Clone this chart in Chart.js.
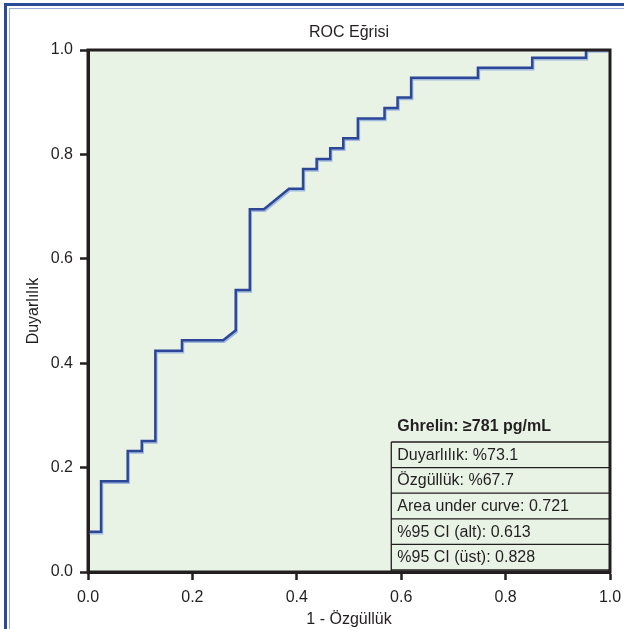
<!DOCTYPE html>
<html>
<head>
<meta charset="utf-8">
<script src="https://cdn.jsdelivr.net/npm/chart.js@4.4.1/dist/chart.umd.min.js"></script>
<style>
  html, body { margin: 0; padding: 0; background: #ffffff; overflow: hidden; }
  #wrap { position: relative; width: 624px; height: 629px; }
  canvas { position: absolute; left: 0; top: 0; }
  .frameOuter { position: absolute; left: 4px; top: 3px; width: 640px; height: 700px; border: 3px solid #2b4a98; box-sizing: border-box; pointer-events: none; }
  .frameInner { position: absolute; left: 9px; top: 8px; width: 640px; height: 700px; border: 1px solid #9aaedb; box-sizing: border-box; pointer-events: none; }
</style>
</head>
<body>
<div id="wrap">
  <canvas id="c" width="624" height="629"></canvas>
  <div class="frameOuter"></div>
  <div class="frameInner"></div>
</div>
<script>
// ROC curve vertices (1 - specificity, sensitivity)
const fpr = [0, 0.025, 0.025, 0.076, 0.076, 0.103, 0.103, 0.129, 0.129, 0.180, 0.180, 0.259, 0.283, 0.283, 0.310, 0.310, 0.337, 0.385, 0.412, 0.412, 0.438, 0.438, 0.464, 0.464, 0.489, 0.489, 0.517, 0.517, 0.568, 0.568, 0.593, 0.593, 0.619, 0.619, 0.747, 0.747, 0.851, 0.851, 0.954, 0.954, 1.0];
const tpr = [0.077, 0.077, 0.174, 0.174, 0.232, 0.232, 0.251, 0.251, 0.424, 0.424, 0.444, 0.444, 0.463, 0.540, 0.540, 0.695, 0.695, 0.734, 0.734, 0.772, 0.772, 0.791, 0.791, 0.812, 0.812, 0.831, 0.831, 0.869, 0.869, 0.889, 0.889, 0.909, 0.909, 0.947, 0.947, 0.966, 0.966, 0.985, 0.985, 1.0, 1.0];
const tickValues = [0, 0.2, 0.4, 0.6, 0.8, 1.0];
const chartTitle = 'ROC Eğrisi';
const xTitle = '1 - Özgüllük';
const yTitle = 'Duyarlılık';
const statsTitle = 'Ghrelin: ≥781 pg/mL';
const statsRows = ['Duyarlılık: %73.1', 'Özgüllük: %67.7', 'Area under curve: 0.721', '%95 CI (alt): 0.613', '%95 CI (üst): 0.828'];

const FONT = "'Liberation Sans', Arial, Helvetica, sans-serif";
const INK = '#231f20';

const points = fpr.map((x, i) => ({ x: x, y: tpr[i] }));

const bgPlugin = {
  id: 'bg',
  beforeDraw(chart) {
    const ctx = chart.ctx, ca = chart.chartArea;
    ctx.save();
    ctx.fillStyle = '#ffffff';
    ctx.fillRect(0, 0, chart.width, chart.height);
    ctx.fillStyle = '#e8f3e6';
    ctx.fillRect(ca.left, ca.top, ca.right - ca.left, ca.bottom - ca.top);
    ctx.restore();
  }
};

const shadowPlugin = {
  id: 'lineShadow',
  beforeDatasetDraw(chart) {
    const ctx = chart.ctx;
    ctx.save();
    ctx.shadowColor = 'rgba(130,160,215,0.7)';
    ctx.shadowOffsetX = 1;
    ctx.shadowOffsetY = 1.5;
    ctx.shadowBlur = 0;
  },
  afterDatasetDraw(chart) {
    chart.ctx.restore();
  }
};

const tablePlugin = {
  id: 'statsTable',
  afterDatasetsDraw(chart) {
    const ctx = chart.ctx, ca = chart.chartArea;
    const w = ca.right - ca.left;
    const L = ca.left + w * 0.581;
    const R = ca.right;
    const rowH = 25.6;
    const bottom = ca.bottom - 2;
    const top = bottom - rowH * statsRows.length;
    ctx.save();
    ctx.strokeStyle = INK;
    ctx.lineWidth = 1.3;
    ctx.beginPath();
    ctx.moveTo(L, top); ctx.lineTo(L, ca.bottom);
    for (let i = 0; i <= statsRows.length; i++) {
      const y = top + i * rowH;
      ctx.moveTo(L, y); ctx.lineTo(R, y);
    }
    ctx.stroke();
    ctx.fillStyle = INK;
    ctx.textBaseline = 'middle';
    ctx.textAlign = 'left';
    ctx.font = 'bold 16px ' + FONT;
    ctx.fillText(statsTitle, L + 6, top - 15);
    ctx.font = '16px ' + FONT;
    statsRows.forEach((t, i) => {
      ctx.fillText(t, L + 6, top + i * rowH + rowH / 2 + 0.5);
    });
    ctx.restore();
  },
  afterDraw(chart) {
    const ctx = chart.ctx, ca = chart.chartArea;
    ctx.save();
    ctx.strokeStyle = INK;
    ctx.lineWidth = 3;
    ctx.strokeRect(ca.left, ca.top, ca.right - ca.left, ca.bottom - ca.top);
    ctx.restore();
  }
};

new Chart(document.getElementById('c'), {
  type: 'line',
  data: {
    datasets: [{
      data: points,
      borderColor: '#2c4797',
      borderWidth: 2.5,
      pointRadius: 0,
      tension: 0,
      fill: false
    }]
  },
  options: {
    responsive: false,
    devicePixelRatio: 1,
    animation: false,
    layout: { padding: { left: 0, right: 14, top: 0, bottom: 0 } },
    plugins: {
      legend: { display: false },
      tooltip: { enabled: false },
      title: {
        display: true,
        text: chartTitle,
        fullSize: false,
        color: INK,
        font: { family: FONT, size: 16, weight: 'normal' },
        padding: { top: 23, bottom: 7.8 }
      }
    },
    scales: {
      x: {
        type: 'linear',
        min: 0, max: 1,
        afterBuildTicks: s => { s.ticks = tickValues.map(v => ({ value: v })); },
        afterFit: s => { s.height = 57; s.paddingLeft = 0; s.paddingRight = 0; },
        ticks: {
          callback: v => Number(v).toFixed(1),
          color: INK,
          font: { family: FONT, size: 16 },
          padding: 8,
          maxRotation: 0,
          autoSkip: false
        },
        grid: { drawOnChartArea: false, drawTicks: true, tickLength: 8, tickWidth: 2.5, tickColor: INK },
        border: { display: true, color: INK, width: 3 },
        title: { display: true, text: xTitle, color: INK, font: { family: FONT, size: 16 }, padding: { top: 0, bottom: 0 } }
      },
      y: {
        type: 'linear',
        min: 0, max: 1,
        afterBuildTicks: s => { s.ticks = tickValues.map(v => ({ value: v })); },
        afterFit: s => { s.width = 88; s.paddingTop = 0; s.paddingBottom = 0; },
        ticks: {
          callback: v => Number(v).toFixed(1),
          color: INK,
          font: { family: FONT, size: 16 },
          padding: 7,
          autoSkip: false
        },
        grid: { drawOnChartArea: false, drawTicks: true, tickLength: 8, tickWidth: 2.5, tickColor: INK },
        border: { display: true, color: INK, width: 3 },
        title: { display: true, text: yTitle, color: INK, font: { family: FONT, size: 16 }, padding: { top: 24, bottom: 0 } }
      }
    }
  },
  plugins: [bgPlugin, shadowPlugin, tablePlugin]
});
</script>
</body>
</html>
